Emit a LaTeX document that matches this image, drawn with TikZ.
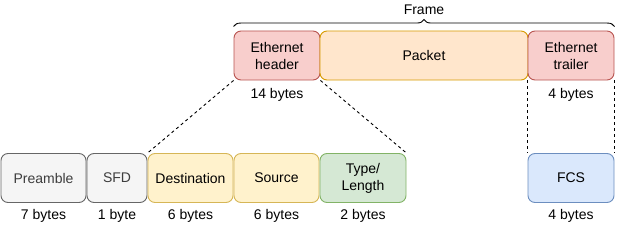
\documentclass[tikz,border=0pt]{standalone}
\usepackage{fontspec}
\setmainfont{Liberation Sans}
\usetikzlibrary{decorations.pathreplacing}
\definecolor{grayfill}{HTML}{F5F5F5}
\definecolor{graydraw}{HTML}{666666}
\definecolor{yelfill}{HTML}{FFF2CC}
\definecolor{yeldraw}{HTML}{D6B656}
\definecolor{grnfill}{HTML}{D5E8D4}
\definecolor{grndraw}{HTML}{82B366}
\definecolor{redfill}{HTML}{F8CECC}
\definecolor{reddraw}{HTML}{B85450}
\definecolor{orgfill}{HTML}{FFE6CC}
\definecolor{orgdraw}{HTML}{D79B00}
\definecolor{blufill}{HTML}{DAE8FC}
\definecolor{bludraw}{HTML}{6C8EBF}

\begin{document}
\begin{tikzpicture}[x=1pt,y=-1pt,
  field/.style={draw, rounded corners=7pt, line width=0.9pt, inner sep=0pt,
    minimum height=49pt, align=center, font=\fontsize{14}{17}\selectfont},
  size/.style={font=\fontsize{14}{17}\selectfont},
  link/.style={line width=0.9pt, dash pattern=on 3pt off 3pt}]

\useasboundingbox (0,0) rectangle (621,230);

% frame
\node[field, fill=redfill, draw=reddraw, minimum width=86pt] (hdr) at (277,55.5) {Ethernet\\header};
\node[field, fill=orgfill, draw=orgdraw, minimum width=208pt] (pkt) at (424,55.5) {Packet};
\node[field, fill=redfill, draw=reddraw, minimum width=86pt] (trl) at (571,55.5) {Ethernet\\trailer};

\draw[decorate, decoration={brace, amplitude=7pt}, line width=0.9pt]
  ([yshift=4pt]hdr.north west) -- ([yshift=4pt]trl.north east) node[midway, above=8pt, size] (frm) {Frame};

\node[size] (hdrsize) at (277,95) {14 bytes};
\node[size] (trlsize) at (571,95) {4 bytes};

% fields
\node[field, fill=grayfill, draw=graydraw, text=graydraw!60!black, minimum width=85pt] (pre) at (43.5,178) {Preamble};
\node[field, fill=grayfill, draw=graydraw, text=graydraw!60!black, minimum width=60pt] (sfd) at (117,178) {SFD};
\node[field, fill=yelfill, draw=yeldraw, minimum width=85pt] (dst) at (190.5,178) {Destination};
\node[field, fill=yelfill, draw=yeldraw, minimum width=85pt] (src) at (276.5,178) {Source};
\node[field, fill=grnfill, draw=grndraw, minimum width=86pt] (typ) at (363,178) {Type/\\Length};
\node[field, fill=blufill, draw=bludraw, minimum width=86pt] (fcs) at (571,178) {FCS};

\node[size] at (43.5,216) {7 bytes};
\node[size] at (117,216) {1 byte};
\node[size] at (190.5,216) {6 bytes};
\node[size] at (276.5,216) {6 bytes};
\node[size] at (363,216) {2 bytes};
\node[size] at (571,216) {4 bytes};

\draw[link] (hdr.south west) -- (dst.north west);
\draw[link] (hdr.south east) -- (typ.north east);
\draw[link] (trl.south west) -- (fcs.north west);
\draw[link] (trl.south east) -- (fcs.north east);

\end{tikzpicture}
\end{document}
